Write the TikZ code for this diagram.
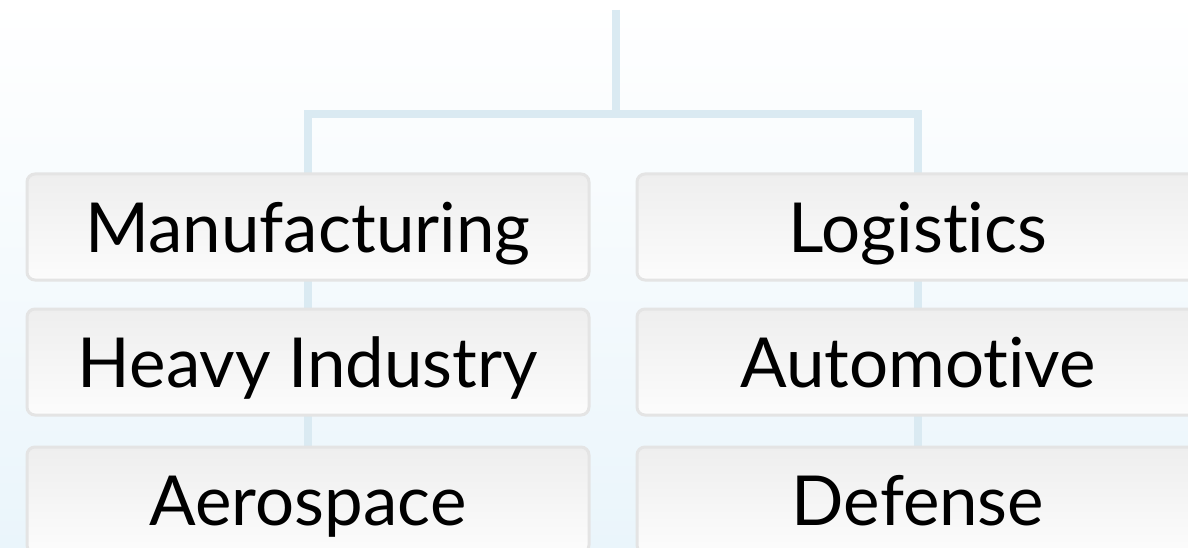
\documentclass[tikz,border=0pt]{standalone}
\usepackage{fontspec}
\setmainfont{Lato}[Ligatures={NoCommon,NoRare}]
\usetikzlibrary{backgrounds}
\definecolor{linkblue}{RGB}{218,234,242}
\definecolor{boxline}{RGB}{228,228,228}
\definecolor{boxtop}{RGB}{238,238,238}
\definecolor{boxbot}{RGB}{252,252,252}
\definecolor{bgblue}{RGB}{234,245,251}
\begin{document}
\begin{tikzpicture}[x=1pt,y=-1pt,
  every node/.style={rectangle, rounded corners=8pt, draw=boxline, line width=3pt,
    top color=boxtop, bottom color=boxbot, minimum width=562pt, minimum height=106pt,
    inner sep=0pt, text height=50pt, text depth=0pt, font=\fontsize{69}{82}\selectfont},
  link/.style={draw=linkblue, line width=8pt}
]
    \useasboundingbox (0,0) rectangle (1188,548);
    \node (manu) at (308,227) {Manufacturing};
    \node (heavy) at (308,362) {Heavy Industry};
    \node (aero) at (308,500) {Aerospace};
    \node (logi) at (918,227) {Logistics};
    \node (auto) at (918,362) {Automotive};
    \node (defe) at (918,500) {Defense};
    \coordinate (top) at (616,10);
    \coordinate (hub) at (616,114);
    \begin{scope}[on background layer]
        \fill[top color=white, bottom color=bgblue] (0,0) rectangle (1188,548);
        \draw[link] (top) -- (hub);
        \draw[link] (aero.center) |- (hub) -| (defe.center);
    \end{scope}
\end{tikzpicture}
\end{document}
